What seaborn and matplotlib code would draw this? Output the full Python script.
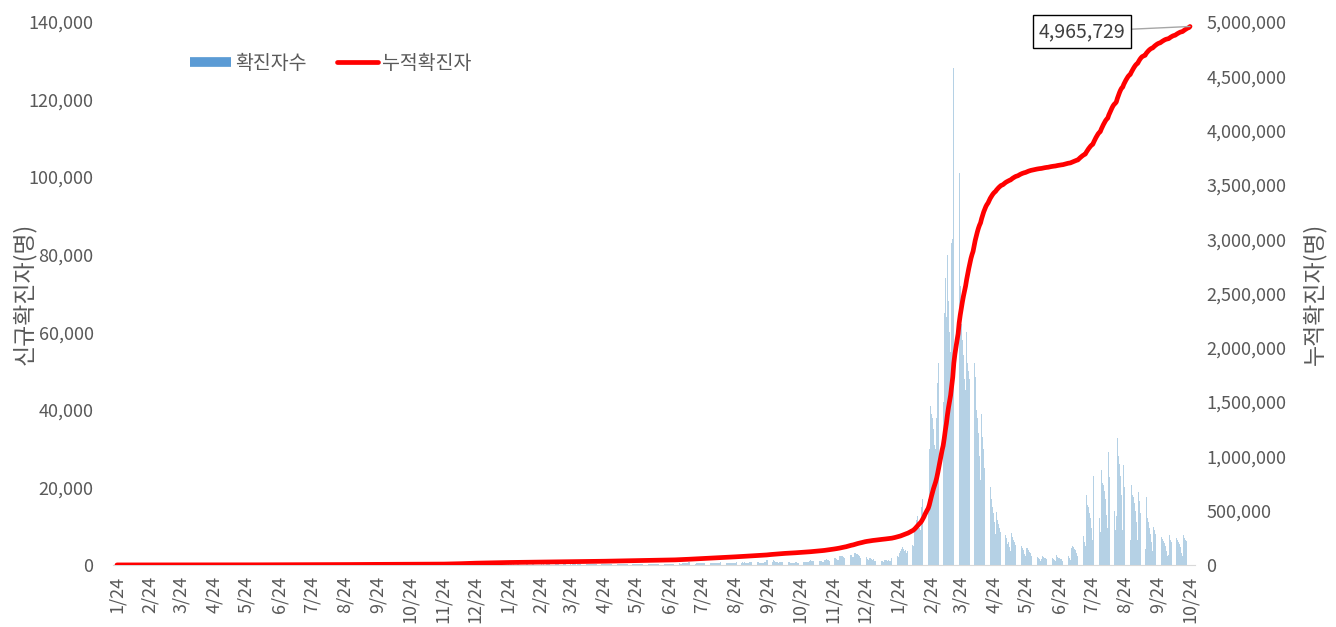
import numpy as np
import pandas as pd
import matplotlib.pyplot as plt
import matplotlib.ticker as mticker
from matplotlib.lines import Line2D
import seaborn as sns

start_date = '2020-01-24'
total_reported = 4965729

# daily new cases (one line per month)
new_2020 = [
    1, 0, 0, 0, 0, 1, 2, 1,
    0, 1, 0, 0, 1, 0, 0, 0, 0, 2, 0, 0, 0, 0, 0, 0, 0, 0, 1, 3, 5, 8, 6, 7, 9, 10, 8, 9, 10,
    12, 15, 10, 11, 14, 20, 12, 8, 25, 30, 52, 20, 15, 12, 10, 8, 14, 18, 16, 12, 18, 19, 22, 16, 20, 18, 12, 10, 15, 12, 10,
    10, 8, 12, 7, 6, 5, 4, 3, 5, 3, 2, 4, 2, 1, 3, 2, 1, 2, 1, 0, 1, 1, 0, 1, 2, 1, 0, 0, 1, 1,
    2, 1, 1, 0, 1, 2, 3, 22, 27, 26, 13, 7, 11, 6, 4, 3, 2, 5, 8, 6, 7, 12, 8, 9, 10, 8, 15, 22, 18, 9, 15,
    11, 21, 14, 19, 25, 23, 15, 22, 25, 18, 14, 21, 11, 15, 10, 14, 18, 19, 12, 15, 20, 9, 12, 15, 16, 9, 14, 20, 16, 21,
    17, 12, 18, 12, 9, 10, 15, 14, 12, 8, 14, 9, 6, 10, 12, 9, 7, 10, 11, 8, 10, 5, 9, 6, 10, 9, 8, 7, 11, 14, 15,
    10, 6, 7, 8, 9, 12, 15, 11, 8, 10, 9, 25, 41, 61, 146, 140, 118, 146, 138, 149, 134, 147, 115, 84, 102, 100, 91, 98, 89, 103, 67,
    60, 74, 51, 62, 48, 57, 52, 41, 55, 60, 48, 39, 51, 45, 41, 42, 44, 41, 28, 30, 36, 41, 32, 24, 27, 29, 18, 23, 19, 24,
    25, 22, 18, 15, 14, 16, 19, 21, 12, 15, 11, 14, 12, 25, 17, 21, 14, 12, 18, 22, 21, 14, 12, 31, 24, 25, 19, 36, 25, 38, 42,
    31, 25, 41, 48, 43, 45, 44, 34, 45, 56, 53, 60, 52, 67, 70, 85, 90, 110, 115, 122, 136, 150, 112, 190, 188, 175, 176, 184, 155, 160,
    190, 241, 262, 296, 244, 230, 251, 260, 253, 262, 362, 399, 286, 250, 378, 423, 377, 377, 310, 331, 215, 375, 355, 336, 249, 234, 255, 360, 330, 284, 281,
]
new_2021 = [
    278, 304, 218, 150, 316, 226, 235, 287, 222, 201, 173, 181, 213, 190, 147, 129, 136, 127, 113, 118, 112, 104, 121, 122, 92, 120, 142, 107, 125, 109, 86,
    89, 129, 144, 139, 123, 87, 83, 71, 102, 114, 115, 82, 76, 75, 79, 113, 174, 103, 93, 92, 99, 86, 103, 112, 93, 124, 109, 72,
    125, 119, 124, 154, 124, 105, 85, 82, 115, 148, 120, 119, 98, 83, 88, 110, 148, 122, 112, 123, 103, 80, 122, 101, 128, 129, 137, 111, 104, 140, 158,
    158, 137, 168, 124, 164, 239, 244, 204, 186, 164, 129, 156, 226, 239, 189, 163, 144, 122, 145, 194, 221, 232, 225, 180, 178, 243, 252, 184, 249, 252,
    196, 196, 185, 148, 136, 177, 155, 166, 168, 163, 161, 218, 202, 197, 170, 173, 178, 214, 131, 201, 159, 147, 158, 152, 187, 190, 190, 177, 198, 166, 156,
    188, 197, 241, 183, 171, 175, 161, 162, 227, 208, 194, 182, 164, 144, 194, 207, 191, 183, 166, 129, 167, 225, 233, 214, 261, 200, 219, 228, 325, 375,
    359, 447, 391, 325, 268, 483, 583, 509, 497, 416, 405, 638, 637, 634, 620, 496, 483, 358, 401, 471, 484, 511, 433, 480, 499, 414, 560, 603, 599, 568, 497,
    454, 368, 446, 609, 475, 459, 484, 445, 378, 463, 661, 744, 684, 521, 410, 387, 510, 589, 502, 553, 542, 450, 386, 619, 606, 658, 676, 499, 413, 533, 651,
    625, 653, 591, 494, 419, 576, 661, 705, 677, 565, 507, 482, 527, 731, 671, 521, 448, 454, 397, 512, 648, 694, 1212, 1221, 892, 875, 1087, 845, 1158, 1052,
    849, 764, 658, 618, 808, 873, 847, 722, 524, 497, 486, 716, 780, 717, 611, 479, 377, 376, 569, 628, 642, 608, 522, 355, 346, 610, 856, 825, 819, 703, 662,
    637, 1004, 1241, 1008, 1002, 989, 712, 586, 1095, 1021, 1001, 1008, 980, 704, 750, 1373, 1302, 1434, 1353, 1200, 1058, 913, 1730, 1627, 1904, 1886, 1575, 1380, 1320, 2221,
    2222, 2267, 2199, 2065, 1799, 1698, 2901, 2885, 2818, 2657, 2505, 2060, 2019, 3166, 3056, 2795, 2860, 2595, 2303, 1791, 2708, 2678, 2542, 2303, 2004, 1539, 1235, 1700, 1816, 1541, 1308,
]
new_2022 = [
    1500, 1100, 900, 1300, 1400, 1300, 1200, 1100, 900, 800, 1200, 1300, 1200, 1100, 1200, 1000, 1050, 1900, 2000, 2200, 2400, 2500, 2300, 2000, 3100, 3500, 4000, 4500, 4000, 3600, 3800,
    3000, 3500, 4800, 5500, 6000, 5200, 5000, 8500, 10000, 11500, 12500, 11000, 9500, 9000, 15000, 17000, 19000, 23000, 20000, 18000, 17000, 30000, 41000, 39000, 38000, 35000, 31000, 30000,
    38000, 47000, 52000, 56000, 50000, 48000, 42000, 65000, 74000, 64000, 80000, 68000, 60000, 55000, 83000, 84000, 128000, 82000, 66000, 62000, 60000, 101000, 72000, 62000, 58000, 54000, 48000, 45000, 60000, 52000, 50000,
    48000, 43000, 36000, 30000, 52000, 48500, 40000, 38000, 34000, 28000, 22000, 39000, 33000, 30000, 25000, 24000, 18000, 14000, 22000, 20000, 17000, 15000, 13500, 11000, 8000, 13700, 11500, 10500, 9500, 8500,
    5000, 4000, 8500, 7800, 7000, 5500, 6000, 4500, 3500, 8200, 7200, 6400, 5800, 5200, 3800, 2800, 6000, 5600, 4800, 4300, 3900, 2900, 2200, 4400, 4300, 3800, 3300, 3000, 2300, 1600, 3400,
    1500, 2200, 2000, 1800, 1500, 900, 1400, 2300, 2100, 1900, 1700, 1500, 800, 2400, 2100, 1900, 1700, 1500, 1300, 900, 2500, 2000, 1900, 1800, 1600, 1400, 1000, 2800, 2900, 2500,
    2700, 2300, 1900, 1300, 4300, 4900, 4500, 4200, 3800, 3000, 2200, 9800, 9500, 8600, 8000, 7500, 6000, 4800, 18000, 15500, 15000, 13500, 12000, 9500, 6500, 23000, 20000, 19500, 17500, 16000, 12000,
    8500, 24500, 21000, 20500, 19000, 17000, 13000, 9500, 29000, 22700, 22000, 21000, 18500, 14000, 9000, 12500, 32700, 28000, 26000, 23000, 18000, 9000, 25800, 20000, 19000, 17000, 15500, 12000, 6500, 20600, 18000,
    17500, 16000, 14000, 11000, 6500, 18800, 16500, 13400, 11000, 6000, 4500, 4000, 17500, 12000, 11000, 9500, 8000, 6000, 3500, 9800, 9000, 8000, 7000, 6000, 4500, 2600, 7200, 6800, 6200, 5700,
    4800, 3500, 2200, 2500, 7700, 6500, 6000, 5000, 3600, 2400, 7000, 6300, 5800, 5300, 4500, 3000, 2300, 7700, 7000, 6500, 6200, 5200, 3500, 10300,
]

daily = np.array(new_2020 + new_2021 + new_2022)
dates = pd.date_range(start_date, '2022-10-24')
assert len(daily) == len(dates), (len(new_2020), len(new_2021), len(new_2022), len(dates))

df = pd.DataFrame({'day': np.arange(len(daily)), 'new': daily, 'cum': np.cumsum(daily)})

tick_dates = pd.date_range(start_date, '2022-10-24', freq=pd.DateOffset(months=1))
tick_pos = [(d - dates[0]).days for d in tick_dates]
tick_lab = [f'{d.month}/24' for d in tick_dates]

sns.set_style('white')
plt.rcParams['font.family'] = ['Noto Sans CJK KR', 'DejaVu Sans']
grey = '#595959'

fig, ax = plt.subplots(figsize=(13.36, 6.27), dpi=100)
fig.subplots_adjust(left=0.0846, right=0.8945, top=0.965, bottom=0.099)
ax2 = ax.twinx()

sns.barplot(data=df, x='day', y='new', native_scale=True, color='#b5d1e5', saturation=1,
            width=0.7, linewidth=0, errorbar=None, ax=ax)
sns.lineplot(data=df, x='day', y='cum', color='red', lw=3.4, estimator=None, ax=ax2)

ax.set_xlim(-3.7, len(daily) - 1 + 4.7)
ax.set_ylim(0, 140000)
ax.set_yticks(np.arange(0, 140001, 20000))
ax.yaxis.set_major_formatter(mticker.StrMethodFormatter('{x:,.0f}'))
ax2.set_ylim(0, 5000000)
ax2.set_yticks(np.arange(0, 5000001, 500000))
ax2.yaxis.set_major_formatter(mticker.StrMethodFormatter('{x:,.0f}'))

ax.set_xticks(tick_pos)
ax.set_xticklabels(tick_lab, rotation=90)
ax.tick_params(axis='x', length=5, color='#bfbfbf', labelsize=13, labelcolor=grey, pad=3)
ax.tick_params(axis='y', length=0, labelsize=13, labelcolor=grey, pad=14)
ax2.tick_params(axis='y', length=0, labelsize=13, labelcolor=grey, pad=8)

ax.set_xlabel('')
ax2.set_xlabel('')
ax.set_ylabel('신규확진자(명)', fontsize=16.5, color=grey)
ax2.set_ylabel('누적확진자(명)', fontsize=16.5, color=grey)
ax.yaxis.set_label_coords(-0.071, 0.5)
ax2.yaxis.set_label_coords(1.099, 0.5)

for s in ['top', 'left', 'right']:
    ax.spines[s].set_visible(False)
ax.spines['bottom'].set_color('#d9d9d9')
for s in ax2.spines.values():
    s.set_visible(False)

last = df.iloc[-1]
ax2.annotate(f'{total_reported:,}', xy=(last['day'], last['cum']), xytext=(-108, -5),
             textcoords='offset pixels', ha='center', va='center', fontsize=14, color='#404040',
             bbox=dict(boxstyle='square,pad=0.3', fc='white', ec='black', lw=1),
             arrowprops=dict(arrowstyle='-', color='#a6a6a6', lw=1, shrinkA=0, shrinkB=0))

handles = [Line2D([], [], color='#5b9bd5', lw=7, solid_capstyle='butt'),
           Line2D([], [], color='red', lw=3.4)]
ax2.legend(handles, ['확진자수', '누적확진자'], loc='upper left', bbox_to_anchor=(0.055, 0.975),
           ncol=2, frameon=False, fontsize=14, handlelength=2.1, handletextpad=0.2,
           columnspacing=1.6, labelcolor=grey)

plt.savefig('out.png', dpi=100)
